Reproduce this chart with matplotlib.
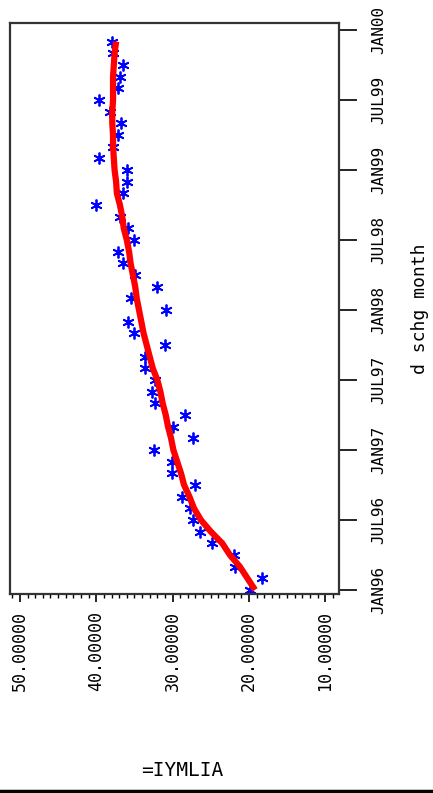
import numpy as np
import matplotlib.pyplot as plt
from matplotlib.ticker import MultipleLocator
from matplotlib.lines import Line2D

# monthly observations, JAN96 .. DEC99
meses = np.arange(48)
valores = [19.8, 18.3, 21.8, 22.0, 24.9, 26.4, 27.3, 27.7, 28.8, 27.1, 30.1, 30.1,
           32.5, 27.3, 29.9, 28.4, 32.3, 32.7, 32.3, 33.6, 33.6, 31.0, 35.1, 35.8,
           30.8, 35.4, 32.1, 34.9, 36.5, 37.1, 35.1, 35.8, 36.9, 40.0, 36.5, 36.0,
           36.0, 39.7, 37.8, 37.1, 36.8, 38.2, 39.6, 37.1, 36.9, 36.5, 37.8, 38.0]
# suavizada
suave = [19.2, 20.2, 21.2, 22.5, 23.5, 25.0, 26.3, 27.2, 27.8, 28.5, 28.9, 29.4,
         29.9, 30.2, 30.6, 30.9, 31.3, 31.6, 32.0, 32.6, 33.0, 33.4, 33.8, 34.1,
         34.4, 34.7, 34.9, 35.2, 35.5, 35.7, 36.0, 36.4, 36.6, 36.9, 37.3, 37.4,
         37.6, 37.7, 37.8, 37.8, 37.9, 37.9, 37.8, 37.8, 37.8, 37.7, 37.6, 37.4]

rotulos_data = ['JAN96', 'JUL96', 'JAN97', 'JUL97', 'JAN98', 'JUL98', 'JAN99', 'JUL99', 'JAN00']
pos_data = [0, 6, 12, 18, 24, 30, 36, 42, 48]
rotulos_val = ['50.00000', '40.00000', '30.00000', '20.00000', '10.00000']
pos_val = [50, 40, 30, 20, 10]

mono = 'DejaVu Sans Mono'

fig = plt.figure(figsize=(4.33, 7.93), dpi=100)
ax = fig.add_axes([0.0231, 0.251, 0.7598, 0.720])

ax.plot(valores, meses, linestyle='none', marker=(6, 2, 0), ms=8.5, mew=1.3,
        color='#0000ff', zorder=2)
ax.plot(suave, meses, color='#ff0000', lw=4.5, zorder=3, solid_capstyle='butt')

ax.set_xlim(51.3, 8.2)
ax.set_ylim(-0.35, 48.6)

ax.set_xticks(pos_val)
ax.set_xticklabels(rotulos_val, rotation=90, family=mono, fontsize=12)
ax.xaxis.set_minor_locator(MultipleLocator(1))
ax.tick_params(axis='x', which='major', direction='out', length=6, width=1.2, pad=6)
ax.tick_params(axis='x', which='minor', direction='out', length=3, width=1.0)

ax.yaxis.tick_right()
ax.set_yticks(pos_data)
ax.set_yticklabels(rotulos_data, rotation=90, va='center', family=mono, fontsize=11.5)
ax.tick_params(axis='y', direction='out', length=13, width=1.2, pad=10)
ax.yaxis.set_label_position('right')
ax.set_ylabel('d schg month', rotation=90, family=mono, fontsize=13, labelpad=18)

for s in ax.spines.values():
    s.set_linewidth(1.6)
    s.set_color('#333333')

fig.text(0.325, 0.029, '=IYMLIA', family=mono, fontsize=14, ha='left', va='center')
fig.add_artist(Line2D([0, 1], [0.003, 0.003], color='black', lw=2.5))

plt.savefig('out.png', dpi=100)
